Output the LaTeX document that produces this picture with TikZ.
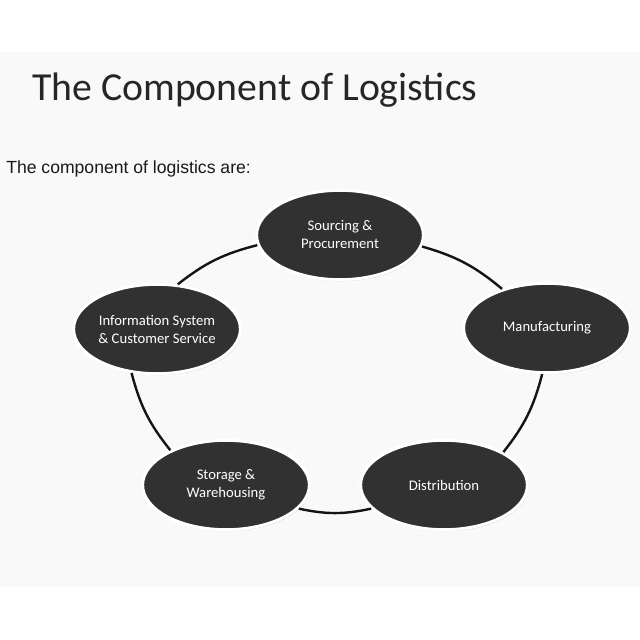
\documentclass[tikz,border=0pt]{standalone}
\usepackage{fontspec}
\setmainfont{Carlito}
\newfontfamily\arialfont{Liberation Sans}
\usetikzlibrary{shapes.geometric,shadows}
\definecolor{slidebg}{HTML}{F9F9F9}
\definecolor{nodefill}{HTML}{313131}
\begin{document}
\begin{tikzpicture}[x=0.75pt,y=-0.75pt,
  comp/.style={ellipse, fill=nodefill, draw=white, line width=2.2pt,
    minimum width=125pt, minimum height=67pt, inner sep=0pt,
    text=white, font=\fontsize{11}{13.5}\selectfont, align=center,
    drop shadow={shadow xshift=0.8pt, shadow yshift=-1.2pt, fill=black!30, opacity=0.45}},
  link/.style={draw=black!92, line width=1.8pt}]
\useasboundingbox (0,0) rectangle (640,640);
\fill[white] (0,0) rectangle (640,640);
\fill[slidebg] (0,52) rectangle (640,587);
\node[anchor=base west, inner sep=0pt, text=black!85, font=\fontsize{29.8}{34}\selectfont] (title) at (32,100) {The Component of Logistics};
\node[anchor=base west, inner sep=0pt, text=black!90, font=\arialfont\fontsize{13.2}{15}\selectfont] (sub) at (6,173) {The component of logistics are:};
\node[comp] (src) at (340,235) {Sourcing \&\\Procurement};
\node[comp] (man) at (547,328) {Manufacturing};
\node[comp] (dis) at (444,485) {Distribution};
\node[comp] (sto) at (226,485) {Storage \&\\Warehousing};
\node[comp] (inf) at (157,329) {Information System\\\& Customer Service};
\draw[link] (inf.65) to[bend left=12] (src.187);
\draw[link] (src.352) to[bend left=12] (man.139);
\draw[link] (man.264) to[bend left=12] (dis.29);
\draw[link] (dis.198) to[bend left=12] (sto.342);
\draw[link] (sto.148) to[bend left=12] (inf.240);
\end{tikzpicture}
\end{document}
